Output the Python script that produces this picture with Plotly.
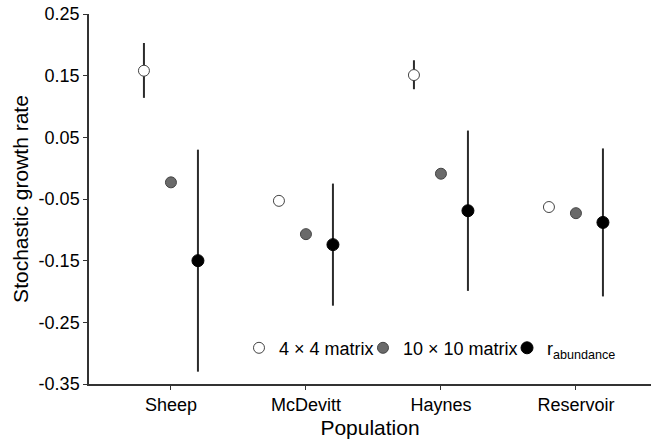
import plotly.graph_objects as go

populations = ["Sheep", "McDevitt", "Haynes", "Reservoir"]
series_names = ["4 × 4 matrix", "10 × 10 matrix", "r<sub>abundance</sub>"]

m4_vals = [0.158, -0.053, 0.151, -0.063]
m4_upper = [0.203, None, 0.175, None]
m4_lower = [0.114, None, 0.128, None]

m10_vals = [-0.023, -0.107, -0.009, -0.073]

r_vals = [-0.150, -0.124, -0.069, -0.088]
r_upper = [0.030, -0.025, 0.061, 0.032]
r_lower = [-0.330, -0.223, -0.199, -0.208]

offsets = [-0.2, 0.0, 0.2]
y_ticks = [0.25, 0.15, 0.05, -0.05, -0.15, -0.25, -0.35]
y_ticktext = ["0.25", "0.15", "0.05", "-0.05", "-0.15", "-0.25", "-0.35"]

base = list(range(len(populations)))

def errs(vals, up, lo):
    plus = [(u - v) if u is not None else 0 for v, u in zip(vals, up)]
    minus = [(v - l) if l is not None else 0 for v, l in zip(vals, lo)]
    return plus, minus

fig = go.Figure()

err_style = dict(color="#2b2b2b", thickness=2, width=0)

p4, mi4 = errs(m4_vals, m4_upper, m4_lower)
fig.add_trace(go.Scatter(
    x=[b + offsets[0] for b in base], y=m4_vals, mode="markers", name=series_names[0],
    marker=dict(size=11, color="white", line=dict(color="#444444", width=1)),
    error_y=dict(type="data", symmetric=False, array=p4, arrayminus=mi4, visible=True, **err_style),
    legend="legend",
))
fig.add_trace(go.Scatter(
    x=[b + offsets[1] for b in base], y=m10_vals, mode="markers", name=series_names[1],
    marker=dict(size=11, color="#6a6a6a", line=dict(color="#444444", width=1)),
    legend="legend2",
))
pr, mir = errs(r_vals, r_upper, r_lower)
fig.add_trace(go.Scatter(
    x=[b + offsets[2] for b in base], y=r_vals, mode="markers", name=series_names[2],
    marker=dict(size=12, color="black", line=dict(color="black", width=1)),
    error_y=dict(type="data", symmetric=False, array=pr, arrayminus=mir, visible=True, **err_style),
    legend="legend3",
))

leg_common = dict(orientation="h", y=0.097,
                  xanchor="left", yanchor="middle", font=dict(size=18),
                  itemwidth=30, bgcolor="rgba(0,0,0,0)", borderwidth=0)

fig.update_layout(
    width=651, height=444,
    margin=dict(l=89, r=0, t=14, b=60),
    paper_bgcolor="white", plot_bgcolor="white",
    font=dict(family="Liberation Sans, Arial, sans-serif", size=18, color="black"),
    showlegend=True,
    legend=dict(x=0.2669, **leg_common),
    legend2=dict(x=0.4875, **leg_common),
    legend3=dict(x=0.7438, **leg_common),
    xaxis=dict(
        range=[-0.607, 3.556], tickmode="array", tickvals=base, ticktext=populations,
        showline=True, linecolor="#333333", linewidth=1.5, ticks="outside", ticklen=4,
        tickcolor="#333333", showgrid=False, zeroline=False, automargin=False,
        tickfont=dict(size=18),
        title=dict(text="Population", font=dict(size=21), standoff=6),
    ),
    yaxis=dict(
        range=[-0.35, 0.25], tickmode="array", tickvals=y_ticks, ticktext=y_ticktext,
        showline=True, linecolor="#333333", linewidth=1.5, ticks="outside", ticklen=4,
        tickcolor="#333333", showgrid=False, zeroline=False, automargin=False,
        tickfont=dict(size=18),
        title=dict(text="Stochastic growth rate", font=dict(size=21), standoff=4),
    ),
)

fig.write_html("out.html")
